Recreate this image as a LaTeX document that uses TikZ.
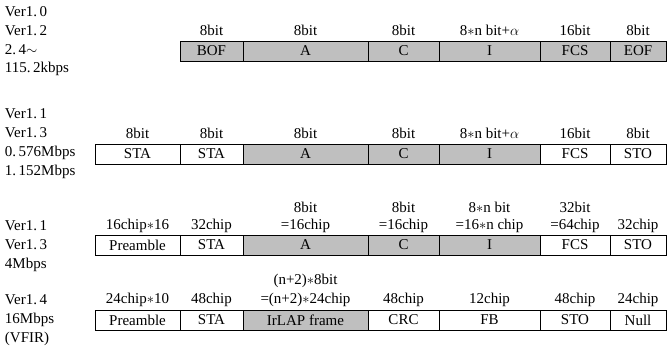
\documentclass[tikz,border=0pt]{standalone}
\usepackage{fontspec}
\setmainfont{Liberation Serif}
\begin{document}
\begin{tikzpicture}[x=1pt,y=-1pt,
  every node/.style={font=\fontsize{15}{17}\selectfont, inner sep=0pt, outer sep=0pt},
  cell/.style={draw=black, line width=0.8pt, minimum height=20pt},
  sh/.style={cell, fill=black!25},
  wh/.style={cell, fill=white},
  w1/.style={minimum width=85pt},
  w2/.style={minimum width=63pt},
  w3/.style={minimum width=125pt},
  w4/.style={minimum width=71pt},
  w5/.style={minimum width=101pt},
  w6/.style={minimum width=70pt},
  w7/.style={minimum width=56pt},
  side/.style={anchor=west}]
\useasboundingbox (0,0) rectangle (667,353);
% left labels
\node[side] (l1a) at (5,12) {Ver1.\,0};
\node[side] (l1b) at (5,31) {Ver1.\,2};
\node[side] (l1c) at (5,50) {2.\,4$\sim$};
\node[side] (l1d) at (5,69) {115.\,2kbps};
\node[side] (l2a) at (5,114) {Ver1.\,1};
\node[side] (l2b) at (5,133) {Ver1.\,3};
\node[side] (l2c) at (5,153) {0.\,576Mbps};
\node[side] (l2d) at (5,172) {1.\,152Mbps};
\node[side] (l3a) at (5,226) {Ver1.\,1};
\node[side] (l3b) at (5,245) {Ver1.\,3};
\node[side] (l3c) at (5,265) {4Mbps};
\node[side] (l4a) at (5,300) {Ver1.\,4};
\node[side] (l4b) at (5,320) {16Mbps};
\node[side] (l4c) at (5,339) {(VFIR)};
% row 1
\node[sh,w2] (r1c2) at (211.5,51) {BOF};
\node[sh,w3] (r1c3) at (305.5,51) {A};
\node[sh,w4] (r1c4) at (403.5,51) {C};
\node[sh,w5] (r1c5) at (489.5,51) {I};
\node[sh,w6] (r1c6) at (575,51) {FCS};
\node[sh,w7] (r1c7) at (638,51) {EOF};
\node (t1c2) at (211.5,30) {8bit};
\node (t1c3) at (305.5,30) {8bit};
\node (t1c4) at (403.5,30) {8bit};
\node (t1c5) at (489.5,30) {8$*$n bit+$\alpha$};
\node (t1c6) at (575,30) {16bit};
\node (t1c7) at (638,30) {8bit};
% row 2
\node[wh,w1] (r2c1) at (137.5,154) {STA};
\node[wh,w2] (r2c2) at (211.5,154) {STA};
\node[sh,w3] (r2c3) at (305.5,154) {A};
\node[sh,w4] (r2c4) at (403.5,154) {C};
\node[sh,w5] (r2c5) at (489.5,154) {I};
\node[wh,w6] (r2c6) at (575,154) {FCS};
\node[wh,w7] (r2c7) at (638,154) {STO};
\node (t2c1) at (137.5,133) {8bit};
\node (t2c2) at (211.5,133) {8bit};
\node (t2c3) at (305.5,133) {8bit};
\node (t2c4) at (403.5,133) {8bit};
\node (t2c5) at (489.5,133) {8$*$n bit+$\alpha$};
\node (t2c6) at (575,133) {16bit};
\node (t2c7) at (638,133) {8bit};
% row 3
\node[wh,w1] (r3c1) at (137.5,245) {Preamble};
\node[wh,w2] (r3c2) at (211.5,245) {STA};
\node[sh,w3] (r3c3) at (305.5,245) {A};
\node[sh,w4] (r3c4) at (403.5,245) {C};
\node[sh,w5] (r3c5) at (489.5,245) {I};
\node[wh,w6] (r3c6) at (575,245) {FCS};
\node[wh,w7] (r3c7) at (638,245) {STO};
\node (u3c3) at (305.5,207) {8bit};
\node (u3c4) at (403.5,207) {8bit};
\node (u3c5) at (489.5,207) {8$*$n bit};
\node (u3c6) at (575,207) {32bit};
\node (t3c1) at (137.5,226) {16chip$*$16};
\node (t3c2) at (211.5,226) {32chip};
\node (t3c3) at (305.5,226) {=16chip};
\node (t3c4) at (403.5,226) {=16chip};
\node (t3c5) at (489.5,226) {=16$*$n chip};
\node (t3c6) at (575,226) {=64chip};
\node (t3c7) at (638,226) {32chip};
% row 4
\node[wh,w1] (r4c1) at (137.5,320) {Preamble};
\node[wh,w2] (r4c2) at (211.5,320) {STA};
\node[sh,w3] (r4c3) at (305.5,320) {IrLAP frame};
\node[wh,w4] (r4c4) at (403.5,320) {CRC};
\node[wh,w5] (r4c5) at (489.5,320) {FB};
\node[wh,w6] (r4c6) at (575,320) {STO};
\node[wh,w7] (r4c7) at (638,320) {Null};
\node (u4c3) at (305.5,281) {(n+2)$*$8bit};
\node (t4c1) at (137.5,300) {24chip$*$10};
\node (t4c2) at (211.5,300) {48chip};
\node (t4c3) at (305.5,300) {=(n+2)$*$24chip};
\node (t4c4) at (403.5,300) {48chip};
\node (t4c5) at (489.5,300) {12chip};
\node (t4c6) at (575,300) {48chip};
\node (t4c7) at (638,300) {24chip};
\end{tikzpicture}
\end{document}
